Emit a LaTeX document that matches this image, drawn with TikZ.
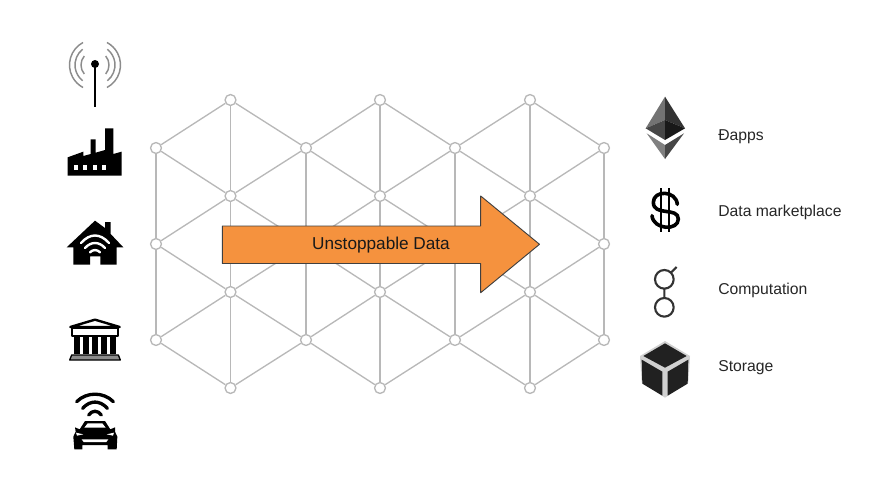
\documentclass[tikz,border=0pt]{standalone}
\usepackage{fontspec}
\setmainfont{Liberation Sans}
\definecolor{arroworange}{HTML}{F5923E}
\definecolor{meshgray}{HTML}{B8B8B8}
\tikzset{
  hub/.style={circle,draw=meshgray,fill=white,line width=1pt,minimum size=8.2pt,inner sep=0pt},
  link/.style={draw=meshgray,line width=1pt},
  caption/.style={anchor=base west,inner sep=0pt,font=\fontsize{11.8}{14}\selectfont,text=black!85},
  wave/.style={line cap=round,line width=#1},
  zoomed/.style={x=0.25pt,y=-0.25pt}
}
\begin{document}
\begin{tikzpicture}[line join=round,x=0.75pt,y=-0.75pt]
	\useasboundingbox (0,0) rectangle (892,478);
	% mesh
	\foreach \c/\x in {0/156,2/306,4/455,6/604}
		\foreach \r/\y in {0/148,1/244,2/340}
			\node[hub] (n\c-\r) at (\x,\y) {};
	\foreach \c/\x in {1/230.5,3/380,5/530}
		\foreach \r/\y in {0/100,1/196,2/292,3/388}
			\node[hub] (n\c-\r) at (\x,\y) {};
	\foreach \c in {0,2,4,6}
		\foreach \r/\s in {0/1,1/2} \draw[link] (n\c-\r)--(n\c-\s);
	\foreach \c in {1,3,5}
		\foreach \r/\s in {0/1,1/2,2/3} \draw[link] (n\c-\r)--(n\c-\s);
	\foreach \c/\l in {0/1,2/1,2/3,4/3,4/5,6/5}
		\foreach \r/\s in {0/0,0/1,1/1,1/2,2/2,2/3} \draw[link] (n\c-\r)--(n\l-\s);
	% arrow
	\draw[fill=arroworange,draw=black!75,line width=0.7pt]
	(222.3,226)--(480.7,226)--(480.7,196)--(539.5,244.3)--(480.7,292.7)--(480.7,263.5)--(222.3,263.5)--cycle;
	\node[font=\fontsize{12.9}{15}\selectfont,text=black!90] (data) at (381,245) {Unstoppable Data};
	% antenna
	\coordinate (mast) at (95,65);
	\foreach \q/\a in {14/40,20/52,25.5/62} {
		\draw[black!45,line width=1.1pt] (mast) ++(-\a:\q*0.75pt) arc[start angle=-\a,end angle=\a,radius=\q*0.75pt];
		\draw[black!45,line width=1.1pt] (mast) ++(180-\a:\q*0.75pt) arc[start angle=180-\a,end angle=180+\a,radius=\q*0.75pt];
	}
	\fill[black] (95,64) circle (3pt);
	\draw[line width=1.4pt] (95,64)--(95,107);
	% factory
	\begin{scope}[shift={(50,30)},zoomed]
		\fill (53,437)--(53,382)--(100,365)--(100,378)--(122,372)--(122,328)--(137,328)--(137,368)--(165,360)--(165,295)--(190,295)--(190,372)--(215,365)--(215,437)--cycle;
		\foreach \x in {72,100,128,156} \fill[white] (\x,405) rectangle +(12,15);
	\end{scope}
	% house
	\begin{scope}[shift={(65,218)},zoomed]
		\fill (90,8)--(120,30)--(120,12)--(137,12)--(137,48)--(175,88)--(155,88)--(155,140)--(106,140)--(106,115)--(75,115)--(75,140)--(25,140)--(25,88)--(5,88)--cycle;
		\draw[white,wave=1.8pt] (48,75) .. controls (75,45) and (105,45) .. (132,75);
		\draw[white,wave=1.8pt] (60,90) .. controls (78,70) and (102,70) .. (120,90);
		\draw[white,wave=1.8pt] (75,103) .. controls (83,94) and (97,94) .. (105,103);
	\end{scope}
	% bank
	\begin{scope}[shift={(65,315)},zoomed]
		\draw[line width=1.8pt,fill=white] (90,14)--(16,36)--(164,36)--cycle;
		\draw[line width=1.6pt,fill=white] (22,38) rectangle (158,62);
		\foreach \x in {27,54,81,108,135} \fill (\x,62) rectangle +(18,56);
		\draw[line width=1pt,fill=black!45] (20,120)--(160,120)--(166,135)--(14,135)--cycle;
	\end{scope}
	% car
	\begin{scope}[shift={(65,390)},zoomed]
		\draw[wave=2.5pt] (35,35) .. controls (65,5) and (115,5) .. (145,35);
		\draw[wave=2.5pt] (53,55) .. controls (75,30) and (105,30) .. (127,55);
		\draw[wave=2.5pt] (71,75) .. controls (82,60) and (98,60) .. (109,75);
		\fill (60,93)--(120,93)--(136,118)--(150,112)--(150,125)--(157,140)--(155,178)--(128,178)--(128,165)--(52,165)--(52,178)--(28,178)--(25,140)--(32,125)--(30,112)--(44,118)--cycle;
		\fill[white] (68,100)--(112,100)--(122,113)--(58,113)--cycle;
		\fill[white] (50,148)--(130,148)--(124,156)--(56,156)--cycle;
		\fill[white] (33,128)--(55,133)--(36,137)--cycle;
		\fill[white] (147,128)--(125,133)--(144,137)--cycle;
	\end{scope}
	% ether
	\begin{scope}[shift={(630,85)},zoomed]
		\fill[black!55] (105,35)--(47,130)--(105,105)--cycle;
		\fill[black!80] (105,35)--(165,130)--(105,105)--cycle;
		\fill[black!72] (47,130)--(105,105)--(105,165)--cycle;
		\fill[black!90] (165,130)--(105,105)--(105,165)--cycle;
		\fill[black!50] (50,145)--(105,180)--(105,222)--cycle;
		\fill[black!72] (162,145)--(105,180)--(105,222)--cycle;
	\end{scope}
	% dollar
	\begin{scope}[shift={(630,85)},zoomed]
		\draw[line width=2.7pt,line cap=round] (142,358) .. controls (138,315) and (70,315) .. (70,352) .. controls (70,395) and (145,365) .. (145,402) .. controls (145,438) and (70,435) .. (66,392);
		\draw[line width=1.6pt] (93,310)--(93,440) (118,310)--(118,440);
	\end{scope}
	% golem
	\begin{scope}[shift={(630,255)},zoomed]
		\draw[black!80,line width=1.6pt] (103,73) circle (7pt) (103,157) circle (7pt)
		(103,101)--(103,129) (123,53)--(140,36);
	\end{scope}
	% cube
	\begin{scope}[shift={(630,255)},zoomed]
		\fill[black!18] (105,258)--(180,303)--(175,382)--(105,428)--(35,382)--(30,303)--cycle;
		\fill[black!87] (105,265)--(170,303)--(105,338)--(40,303)--cycle;
		\fill[black!87] (35,314)--(97,350)--(97,422)--(37,386)--cycle;
		\fill[black!87] (113,350)--(175,314)--(173,386)--(113,422)--cycle;
	\end{scope}
	% labels
	\node[caption] (dapps) at (718,140) {Ðapps};
	\node[caption] (market) at (718,216) {Data marketplace};
	\node[caption] (compute) at (718,294) {Computation};
	\node[caption] (storage) at (718,371) {Storage};
\end{tikzpicture}
\end{document}
